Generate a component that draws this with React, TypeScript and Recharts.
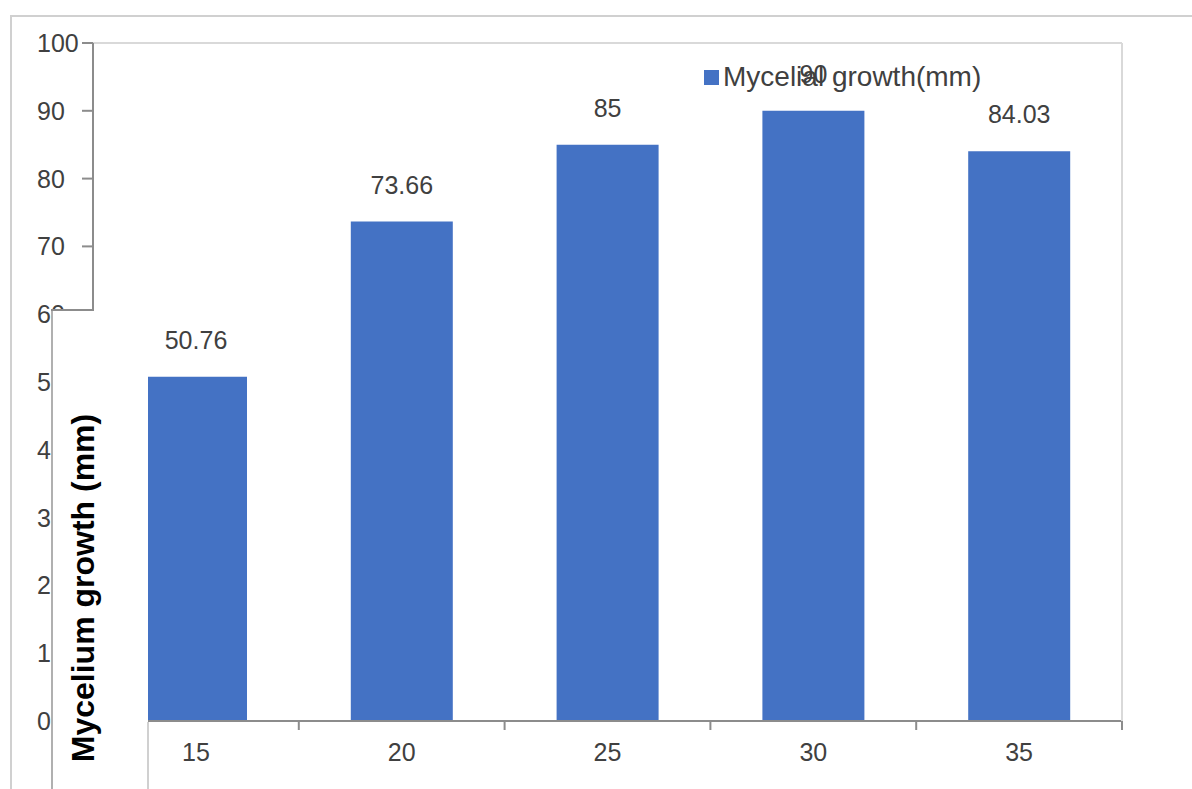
import React from 'react';
import { BarChart, Bar, XAxis, YAxis, Legend, LabelList, ReferenceLine } from 'recharts';

// temperature (°C) vs mycelial growth
const temps = ['15', '20', '25', '30', '35'];
const growth = [50.76, 73.66, 85, 90, 84.03];
const yTicks = [0, 10, 20, 30, 40, 50, 60, 70, 80, 90, 100];

const data = temps.map((t, i) => ({ temp: t, growth: growth[i] }));

const FONT = '"Liberation Sans", Arial, sans-serif';
const TEXT = '#404040';
const BLUE = '#4472C4';
const AXIS = '#8c8c8c';
const X_TICK_GAP = 22;

const YTick = (props: any) => {
  const { y, payload } = props;
  return (
    <text x={37} y={y} dy="0.36em" textAnchor="start" fontSize={25} fill={TEXT} fontFamily={FONT}>
      {payload.value}
    </text>
  );
};

// category label plus an Excel-style tick mark on the right edge of each band
const XTick = (props: any) => {
  const { x, y, payload } = props;
  const axisY = y - X_TICK_GAP;
  const edge = x + (payload.offset || 0);
  return (
    <g>
      <line x1={edge} x2={edge} y1={axisY} y2={axisY + 9} stroke={AXIS} strokeWidth={2} />
      <text x={x} y={y} dy="0.71em" textAnchor="middle" fontSize={25} fill={TEXT} fontFamily={FONT}>
        {payload.value}
      </text>
    </g>
  );
};

const NoLabel = () => <g />;

const LegendContent = (props: any) => {
  const { payload } = props;
  return (
    <div style={{ display: 'flex', alignItems: 'center', fontFamily: FONT }}>
      {(payload || []).map((p: any) => (
        <div key={p.value} style={{ display: 'flex', alignItems: 'center' }}>
          <span style={{ width: 15, height: 15, background: p.color, display: 'inline-block', marginRight: 4 }} />
          <span style={{ fontSize: 28, color: TEXT, lineHeight: '30px' }}>{p.value}</span>
        </div>
      ))}
    </div>
  );
};

const App: React.FC = () => {
  return (
    <div style={{ position: 'absolute', left: 0, top: 0, width: 1192, height: 789, background: '#fff', overflow: 'hidden' }}>
      {/* outer frame */}
      <div style={{ position: 'absolute', left: 10, top: 15, width: 1182, height: 774, borderLeft: '2px solid #d0d0d0', borderTop: '2px solid #d0d0d0' }} />
      <BarChart
        width={1192}
        height={789}
        data={data}
        margin={{ top: 43, right: 69, left: 37, bottom: 0 }}
        style={{ position: 'absolute', left: 0, top: 0 }}
      >
        <XAxis
          xAxisId="cat"
          dataKey="temp"
          height={68}
          tickSize={0}
          tickMargin={X_TICK_GAP}
          axisLine={{ stroke: AXIS, strokeWidth: 2 }}
          tickLine={false}
          tick={<XTick />}
        />
        <YAxis
          yAxisId="left"
          domain={[0, 100]}
          ticks={yTicks}
          width={56}
          tickSize={11}
          axisLine={{ stroke: AXIS, strokeWidth: 2 }}
          tickLine={{ stroke: AXIS, strokeWidth: 2 }}
          tick={<YTick />}
        />
        {/* plot-area border on the right */}
        <YAxis
          yAxisId="border"
          orientation="right"
          domain={[0, 100]}
          width={1}
          tick={<NoLabel />}
          tickLine={false}
          axisLine={{ stroke: '#d9d9d9', strokeWidth: 2 }}
        />
        <ReferenceLine y={100} yAxisId="left" xAxisId="cat" stroke="#d9d9d9" strokeWidth={2} />
        <Legend
          layout="vertical"
          align="center"
          verticalAlign="middle"
          content={<LegendContent />}
          wrapperStyle={{ position: 'absolute', left: 704, top: 62, width: 'auto' }}
        />
        <Bar xAxisId="cat" yAxisId="left" dataKey="growth" name="Mycelial growth(mm)" fill={BLUE} barSize={102} isAnimationActive={false}>
          <LabelList dataKey="growth" position="top" offset={28} fontSize={25} fill={TEXT} fontFamily={FONT} />
        </Bar>
      </BarChart>
      {/* pasted-over axis title panel */}
      <div style={{ position: 'absolute', left: 53, top: 311, width: 95, height: 478, background: '#fff' }} />
      <div style={{ position: 'absolute', left: 51, top: 310, width: 2, height: 479, background: '#b0b0b0' }} />
      <div style={{ position: 'absolute', left: 51, top: 309, width: 43, height: 2, background: AXIS }} />
      <div style={{ position: 'absolute', left: 147, top: 722, width: 2, height: 67, background: '#d0d0d0' }} />
      <div
        style={{
          position: 'absolute',
          left: 83,
          top: 588,
          transform: 'translate(-50%, -50%) rotate(-90deg)',
          whiteSpace: 'nowrap',
          fontFamily: FONT,
          fontWeight: 'bold',
          fontSize: 32,
          color: '#000',
        }}
      >
        Mycelium growth (mm)
      </div>
    </div>
  );
};

export default App;
